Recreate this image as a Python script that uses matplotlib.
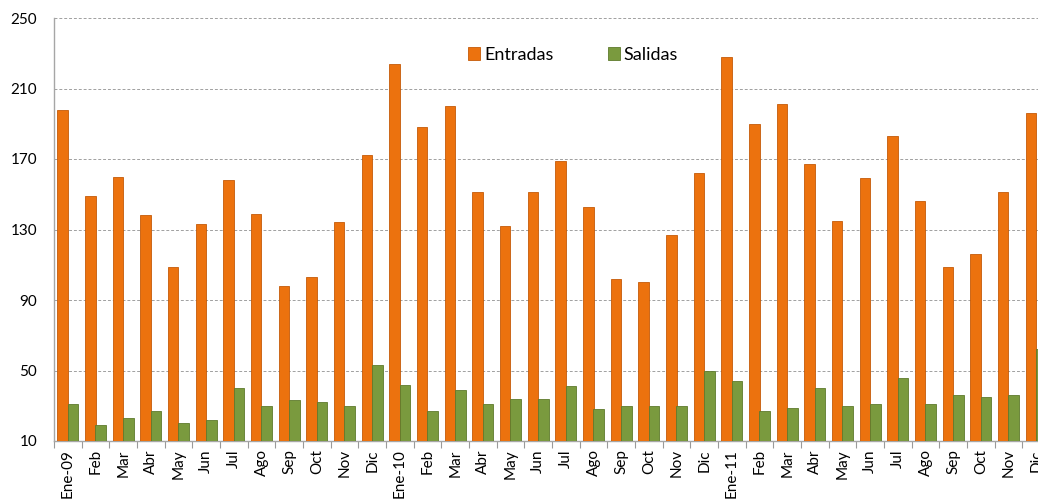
import numpy as np
import matplotlib.pyplot as plt

plt.rcParams['font.family'] = ['Lato', 'DejaVu Sans']

months = ["Ene-09", "Feb", "Mar", "Abr", "May", "Jun", "Jul", "Ago", "Sep", "Oct", "Nov", "Dic",
          "Ene-10", "Feb", "Mar", "Abr", "May", "Jun", "Jul", "Ago", "Sep", "Oct", "Nov", "Dic",
          "Ene-11", "Feb", "Mar", "Abr", "May", "Jun", "Jul", "Ago", "Sep", "Oct", "Nov", "Dic"]

entradas = [198, 149, 160, 138, 109, 133, 158, 139, 98, 103, 134, 172,
            224, 188, 200, 151, 132, 151, 169, 143, 102, 100, 127, 162,
            228, 190, 201, 167, 135, 159, 183, 146, 109, 116, 151, 196]

salidas = [31, 19, 23, 27, 20, 22, 40, 30, 33, 32, 30, 53,
           42, 27, 39, 31, 34, 34, 41, 28, 30, 30, 30, 50,
           44, 27, 29, 40, 30, 31, 46, 31, 36, 35, 36, 62]

yticks = [10, 50, 90, 130, 170, 210, 250]

ORANGE = "#EC720E"
GREEN = "#7A9A3E"


def main():
    fig = plt.figure(figsize=(10.38, 4.99), dpi=100)
    # the original chart is cropped on the right, so the axes run past the figure edge
    ax = fig.add_axes([54 / 1038, 58 / 499, 996 / 1038, 423 / 499])

    x = np.arange(len(months))
    w = 0.385
    ax.bar(x - w / 2, np.array(entradas) - 10, w, bottom=10, color=ORANGE,
           edgecolor="#C45A08", linewidth=0.6, label="Entradas", zorder=3)
    ax.bar(x + w / 2, np.array(salidas) - 10, w, bottom=10, color=GREEN,
           edgecolor="#5E7A2C", linewidth=0.6, label="Salidas", zorder=3)

    ax.set_xlim(-0.5, len(months) - 0.5)
    ax.set_ylim(10, 250)
    ax.set_yticks(yticks)
    ax.tick_params(axis="y", length=0, labelsize=11, pad=12)
    ax.yaxis.grid(True, linestyle=(0, (3, 2)), color="#a0a0a0", linewidth=0.7, zorder=0)

    ax.set_xticks(x)
    ax.set_xticklabels(months, rotation=90, fontsize=11)
    ax.tick_params(axis="x", which="major", length=0, pad=6)
    ax.set_xticks(np.arange(len(months) + 1) - 0.5, minor=True)
    ax.tick_params(axis="x", which="minor", length=5, color="#9a9a9a", width=0.8)

    for side in ("top", "right"):
        ax.spines[side].set_visible(False)
    for side in ("left", "bottom"):
        ax.spines[side].set_color("#a6a6a6")
        ax.spines[side].set_linewidth(1.0)

    fig.legend(loc="center", bbox_to_anchor=(0.552, 0.89), ncol=2, frameon=False,
               fontsize=13, handlelength=0.7, handleheight=0.7, handletextpad=0.2,
               columnspacing=3.0)

    fig.savefig("out.png", dpi=100)
    plt.close(fig)


if __name__ == '__main__':
    main()
